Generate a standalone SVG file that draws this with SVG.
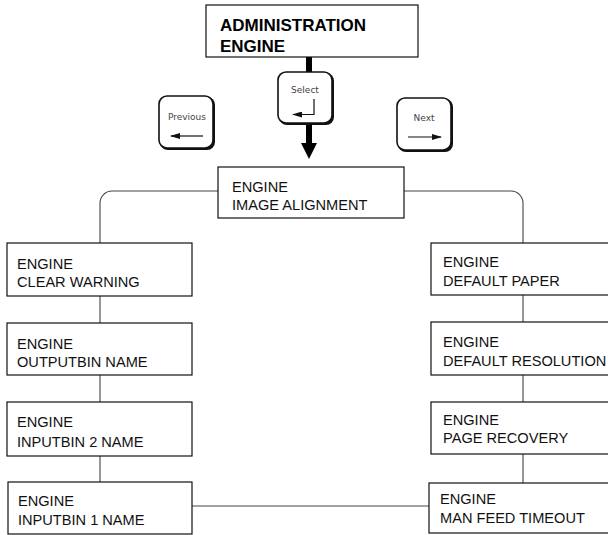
<svg xmlns="http://www.w3.org/2000/svg" width="608" height="535" viewBox="0 0 608 535">
<defs>
<style>
.box{fill:#fff;stroke:#111;stroke-width:1.2}
.t{font-family:"Liberation Sans",Arial,sans-serif;font-size:14.6px;fill:#111}
.tb{font-family:"Liberation Sans",Arial,sans-serif;font-size:17px;font-weight:bold;fill:#000}
.kt{font-family:"DejaVu Sans",sans-serif;font-size:9px;fill:#444;text-anchor:middle}
.con{fill:none;stroke:#444;stroke-width:1.1}
.keysh{fill:#111}
.key{fill:#fff;stroke:#111;stroke-width:1.6}
.ka{stroke:#111;stroke-width:1.2;fill:none}
</style>
<marker id="kah" viewBox="0 0 10 6" refX="9" refY="3" markerWidth="11" markerHeight="6" markerUnits="userSpaceOnUse" orient="auto">
<path d="M0,0 L10,3 L0,6 Z" fill="#111"/>
</marker>
</defs>
<rect width="608" height="535" fill="#fff"/>
<g id="connectors">
<rect x="306" y="56" width="6" height="17" fill="#000"/>
<rect x="306" y="123" width="6" height="22" fill="#000"/>
<path d="M301,143 L317,143 L309,159 Z" fill="#000"/>
<path class="con" d="M218,191 H112 A12,12 0 0 0 100,203 V243"/>
<path class="con" d="M404,191 H511 A12,12 0 0 1 523,203 V243"/>
<path class="con" d="M100,296 V323 M100,375 V402 M100,456 V482"/>
<path class="con" d="M523,295 V322 M523,375 V402 M523,454 V483"/>
<path class="con" d="M192,506 H429"/>
</g>
<g id="admin">
<rect class="box" x="206" y="5" width="212" height="52"/>
<text class="tb" x="220" y="31">ADMINISTRATION</text>
<text class="tb" x="220" y="52">ENGINE</text>
</g>
<g id="key-select">
<rect class="keysh" x="279" y="73" width="55" height="52" rx="8"/>
<rect class="key" x="278" y="72" width="54" height="51" rx="8"/>
<text class="kt" x="305" y="93">Select</text>
<path class="ka" d="M314,99 V114.5 H293" marker-end="url(#kah)"/>
</g>
<g id="key-previous">
<rect class="keysh" x="160" y="97" width="55" height="53" rx="8"/>
<rect class="key" x="159" y="96" width="54" height="52" rx="8"/>
<text class="kt" x="187" y="120">Previous</text>
<path class="ka" d="M203,136 H171" marker-end="url(#kah)"/>
</g>
<g id="key-next">
<rect class="keysh" x="398" y="99" width="55" height="53" rx="8"/>
<rect class="key" x="397" y="98" width="54" height="52" rx="8"/>
<text class="kt" x="424" y="121">Next</text>
<path class="ka" d="M408,137 H441" marker-end="url(#kah)"/>
</g>
<g id="image-alignment">
<rect class="box" x="218" y="167" width="186" height="51"/>
<text class="t" x="232" y="192">ENGINE</text>
<text class="t" x="232" y="210">IMAGE ALIGNMENT</text>
</g>
<g id="clear-warning">
<rect class="box" x="7" y="243" width="185" height="53"/>
<text class="t" x="17" y="269">ENGINE</text>
<text class="t" x="17" y="287">CLEAR WARNING</text>
</g>
<g id="outputbin-name">
<rect class="box" x="7" y="323" width="185" height="52"/>
<text class="t" x="17" y="349">ENGINE</text>
<text class="t" x="17" y="367">OUTPUTBIN NAME</text>
</g>
<g id="inputbin2-name">
<rect class="box" x="7" y="402" width="185" height="54"/>
<text class="t" x="17" y="427">ENGINE</text>
<text class="t" x="17" y="447">INPUTBIN 2 NAME</text>
</g>
<g id="inputbin1-name">
<rect class="box" x="8" y="482" width="184" height="52"/>
<text class="t" x="18" y="506">ENGINE</text>
<text class="t" x="18" y="525">INPUTBIN 1 NAME</text>
</g>
<g id="default-paper">
<rect class="box" x="431" y="243" width="200" height="52"/>
<text class="t" x="443" y="267">ENGINE</text>
<text class="t" x="443" y="286">DEFAULT PAPER</text>
</g>
<g id="default-resolution">
<rect class="box" x="431" y="322" width="200" height="53"/>
<text class="t" x="443" y="347">ENGINE</text>
<text class="t" x="443" y="366">DEFAULT RESOLUTION</text>
</g>
<g id="page-recovery">
<rect class="box" x="431" y="402" width="200" height="52"/>
<text class="t" x="443" y="425">ENGINE</text>
<text class="t" x="443" y="443">PAGE RECOVERY</text>
</g>
<g id="man-feed-timeout">
<rect class="box" x="429" y="483" width="200" height="50"/>
<text class="t" x="440" y="504">ENGINE</text>
<text class="t" x="440" y="523">MAN FEED TIMEOUT</text>
</g>
</svg>
